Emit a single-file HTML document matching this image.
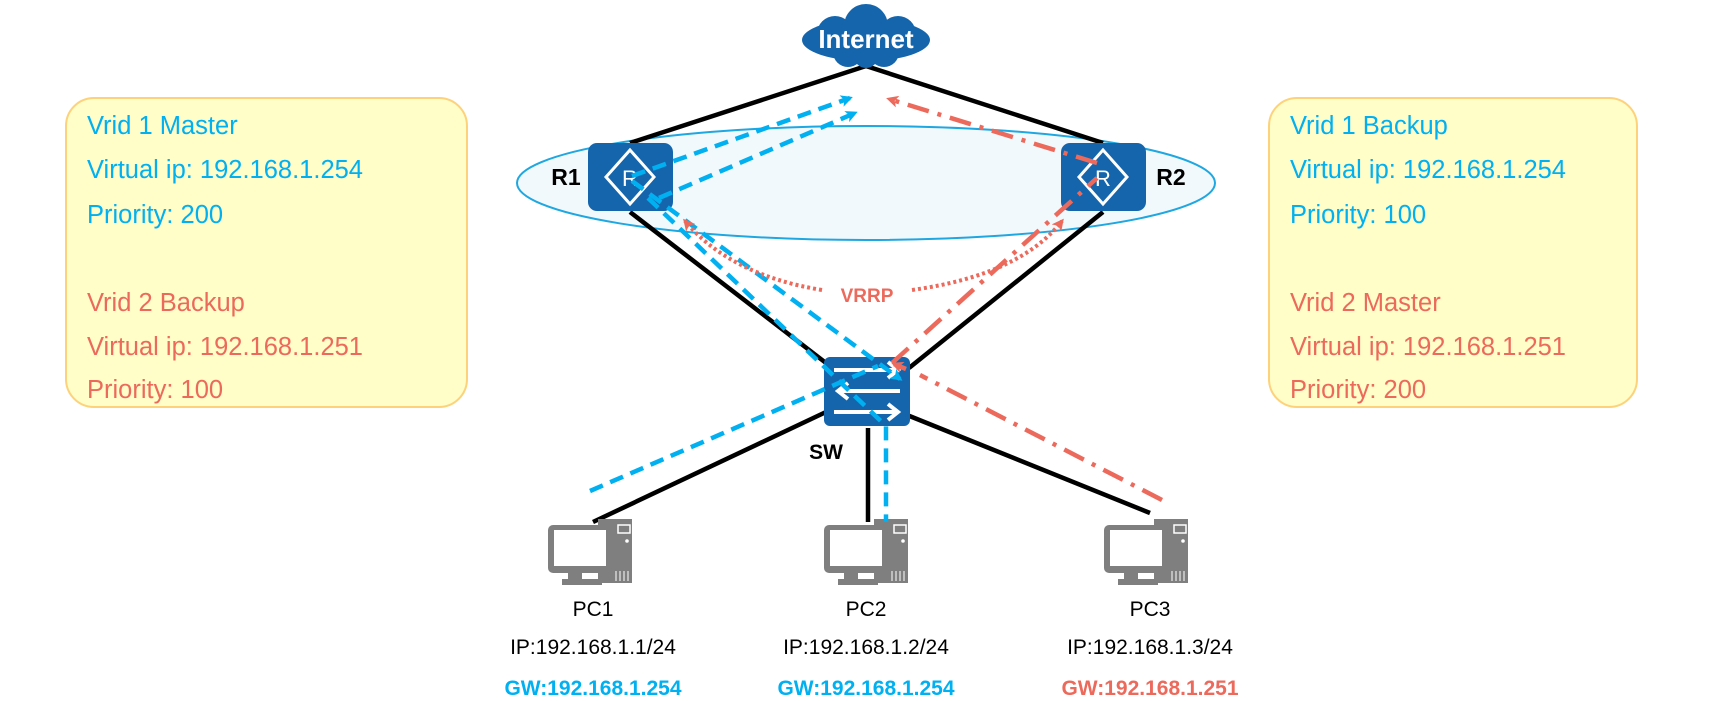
<!DOCTYPE html>
<html><head><meta charset="utf-8"><style>
html,body{margin:0;padding:0;background:#fff;}
svg{display:block;}
text{font-family:"Liberation Sans",sans-serif;}
</style></head><body>
<svg width="1714" height="701" viewBox="0 0 1714 701" xmlns="http://www.w3.org/2000/svg">
<defs>
<marker id="ab" markerWidth="12" markerHeight="12" refX="9" refY="6" orient="auto" markerUnits="userSpaceOnUse"><path d="M0,0 L12,6 L0,12 L3,6z" fill="#00b0f0"/></marker>
<marker id="ar" markerWidth="12" markerHeight="12" refX="9" refY="6" orient="auto" markerUnits="userSpaceOnUse"><path d="M0,0 L12,6 L0,12 L3,6z" fill="#ec6a5c"/></marker>
<g id="pc">
<rect x="0" y="-6" width="34" height="64" fill="#7f7f7f"/>
<rect x="20" y="0" width="12" height="8" fill="none" stroke="#fff" stroke-width="1.5"/>
<circle cx="29" cy="16" r="1.8" fill="#fff"/>
<rect x="-50" y="0" width="64" height="48" rx="5" fill="#7f7f7f"/>
<rect x="-44" y="5" width="52" height="36" fill="#fff"/>
<rect x="-30" y="48" width="14" height="6" fill="#7f7f7f"/>
<rect x="-36" y="54" width="40" height="6" fill="#7f7f7f"/>
<g stroke="#fff" stroke-width="1"><line x1="18" y1="46" x2="18" y2="56"/><line x1="22" y1="46" x2="22" y2="56"/><line x1="26" y1="46" x2="26" y2="56"/><line x1="30" y1="46" x2="30" y2="56"/></g>
</g>
</defs>

<!-- info boxes -->
<rect x="66" y="98" width="401" height="309" rx="28" fill="#fffdc8" stroke="#fdd27a" stroke-width="2"/>
<rect x="1269" y="98" width="368" height="309" rx="28" fill="#fffdc8" stroke="#fdd27a" stroke-width="2"/>
<g font-size="25.5">
<text x="87" y="134" fill="#00b0f0">Vrid 1 Master</text>
<text x="87" y="178" fill="#00b0f0">Virtual ip: 192.168.1.254</text>
<text x="87" y="223" fill="#00b0f0">Priority: 200</text>
<text x="87" y="311" fill="#ec6a5c">Vrid 2 Backup</text>
<text x="87" y="355" fill="#ec6a5c">Virtual ip: 192.168.1.251</text>
<text x="87" y="398" fill="#ec6a5c">Priority: 100</text>
<text x="1290" y="134" fill="#00b0f0">Vrid 1 Backup</text>
<text x="1290" y="178" fill="#00b0f0">Virtual ip: 192.168.1.254</text>
<text x="1290" y="223" fill="#00b0f0">Priority: 100</text>
<text x="1290" y="311" fill="#ec6a5c">Vrid 2 Master</text>
<text x="1290" y="355" fill="#ec6a5c">Virtual ip: 192.168.1.251</text>
<text x="1290" y="398" fill="#ec6a5c">Priority: 200</text>
</g>

<!-- ellipse -->
<ellipse cx="866" cy="183" rx="349" ry="57" fill="#f2f9fd" stroke="#1ea7e0" stroke-width="2"/>

<!-- black links -->
<g stroke="#000" stroke-width="4.5" fill="none">
<line x1="630" y1="143" x2="866" y2="66"/>
<line x1="866" y1="66" x2="1103" y2="143"/>
<line x1="630" y1="212" x2="826" y2="363"/>
<line x1="1103" y1="212" x2="909" y2="368"/>
<line x1="826" y1="412" x2="593" y2="522"/>
<line x1="868" y1="428" x2="868" y2="522"/>
<line x1="907" y1="415" x2="1150" y2="513"/>
</g>

<!-- cloud -->
<g fill="#1565ad">
<ellipse cx="866" cy="40" rx="64" ry="21"/>
<circle cx="866" cy="26" r="22"/>
<circle cx="835" cy="34" r="18"/>
<circle cx="898" cy="34" r="18"/>
<circle cx="848" cy="52" r="15"/>
<circle cx="884" cy="52" r="15"/>
<circle cx="866" cy="56" r="12"/>
</g>
<text x="866" y="48" fill="#fff" font-size="26" font-weight="bold" text-anchor="middle">Internet</text>

<!-- routers -->
<g>
<rect x="588" y="143" width="85" height="68" rx="9" fill="#1565ad"/>
<path d="M630,150 L654,177 L630,204 L606,177Z" fill="none" stroke="#fff" stroke-width="3"/>
<text x="630" y="186" fill="#fff" font-size="22" text-anchor="middle">R</text>
<rect x="1061" y="143" width="85" height="68" rx="9" fill="#1565ad"/>
<path d="M1103,150 L1127,177 L1103,204 L1079,177Z" fill="none" stroke="#fff" stroke-width="3"/>
<text x="1103" y="186" fill="#fff" font-size="22" text-anchor="middle">R</text>
</g>
<text x="566" y="185" font-size="23" font-weight="bold" text-anchor="middle">R1</text>
<text x="1171" y="185" font-size="23" font-weight="bold" text-anchor="middle">R2</text>

<!-- switch -->
<rect x="824" y="357" width="86" height="69" rx="6" fill="#1565ad"/>
<g stroke="#fff" stroke-width="4" fill="none">
<line x1="834" y1="370" x2="896" y2="370"/><path d="M888,362 L898,370 L888,378"/>
<line x1="840" y1="391" x2="900" y2="391"/><path d="M848,383 L838,391 L848,399"/>
<line x1="834" y1="412" x2="896" y2="412"/><path d="M888,404 L898,412 L888,420"/>
</g>
<text x="826" y="459" font-size="21" font-weight="bold" text-anchor="middle">SW</text>

<!-- PCs -->
<use href="#pc" x="598" y="525"/>
<use href="#pc" x="874" y="525"/>
<use href="#pc" x="1154" y="525"/>

<!-- blue dashed -->
<g stroke="#00b0f0" stroke-width="4.5" fill="none" stroke-dasharray="14,8">
<line x1="632" y1="176" x2="850" y2="98" marker-end="url(#ab)"/>
<line x1="659" y1="198" x2="855" y2="113" marker-end="url(#ab)"/>
<line x1="632" y1="181" x2="900" y2="379" marker-end="url(#ab)"/>
<path d="M648,198 L886,426 L886,522"/>
<line x1="590" y1="491" x2="878" y2="366"/>
</g>

<!-- red dash-dot -->
<g stroke="#ec6a5c" stroke-width="4.5" fill="none" stroke-dasharray="22,9,4,9">
<line x1="1162" y1="500" x2="920" y2="375"/>
<line x1="906" y1="369" x2="894" y2="364" marker-end="url(#ar)"/>
<line x1="892" y1="363" x2="1097" y2="178"/>
<line x1="1097" y1="163" x2="889" y2="99" marker-end="url(#ar)"/>
</g>

<!-- VRRP dotted -->
<g stroke="#ec6a5c" stroke-width="4" fill="none" stroke-dasharray="3,3">
<path d="M822,290 Q730,275 685,221" marker-end="url(#ar)"/>
<path d="M912,290 Q1020,275 1062,221" marker-end="url(#ar)"/>
</g>
<text x="867" y="302" fill="#ec6a5c" font-size="19" font-weight="bold" text-anchor="middle">VRRP</text>

<!-- PC labels -->
<g text-anchor="middle">
<g font-size="21">
<text x="593" y="616">PC1</text>
<text x="866" y="616">PC2</text>
<text x="1150" y="616">PC3</text>
<text x="593" y="654">IP:192.168.1.1/24</text>
<text x="866" y="654">IP:192.168.1.2/24</text>
<text x="1150" y="654">IP:192.168.1.3/24</text>
</g>
<g font-size="21" font-weight="bold">
<text x="593" y="695" fill="#00b0f0">GW:192.168.1.254</text>
<text x="866" y="695" fill="#00b0f0">GW:192.168.1.254</text>
<text x="1150" y="695" fill="#ec6a5c">GW:192.168.1.251</text>
</g>
</g>
</svg>
</body></html>
